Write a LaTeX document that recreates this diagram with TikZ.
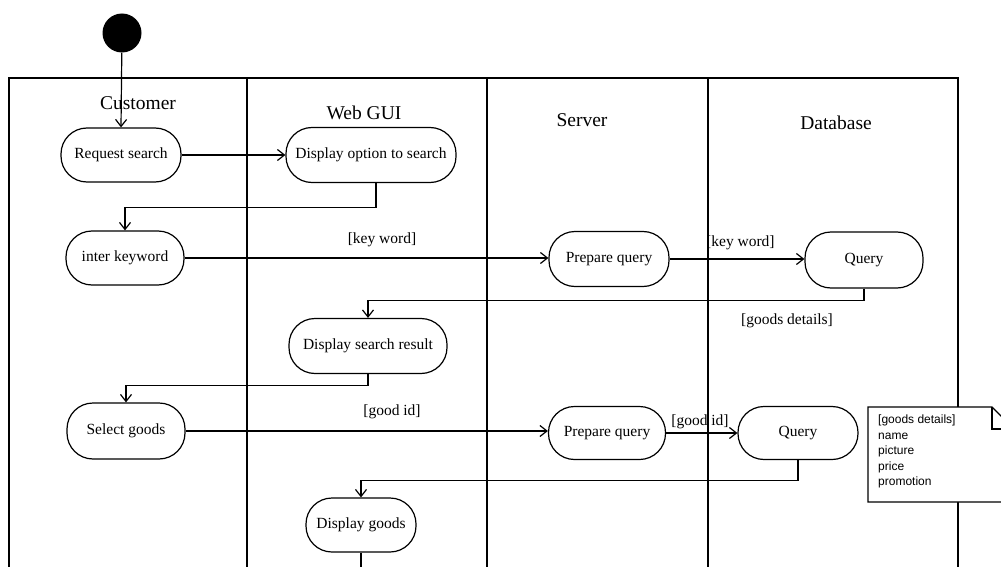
\documentclass[tikz,border=0pt]{standalone}
\usepackage{fontspec}
\setmainfont{Liberation Serif}
\newfontfamily\notefont{Liberation Sans}
\usetikzlibrary{arrows.meta}
\begin{document}
\begin{tikzpicture}[x=1pt,y=-1pt,
  act/.style={draw,line width=1.2pt,rectangle,rounded corners=26pt,inner sep=0pt,
    font=\fontsize{15.5}{18}\selectfont},
  lane/.style={line width=1.8pt},
  conn/.style={line width=1.2pt},
  arr/.style={conn,-{Straight Barb[length=7pt,width=11pt,line width=1.2pt]}},
  hdr/.style={font=\fontsize{19.5}{22}\selectfont},
  lbl/.style={font=\fontsize{15.5}{18}\selectfont,inner sep=0pt}]
\useasboundingbox (0,0) rectangle (1001,567);
\clip (0,0) rectangle (1001,567);
\fill[white] (0,0) rectangle (1001,567);
% swimlane frame
\draw[lane] (9,567) -- (9,78) -- (958,78) -- (958,567);
\draw[lane] (247,78) -- (247,567);
\draw[lane] (487,78) -- (487,567);
\draw[lane] (708,78) -- (708,567);
% headers
\node[hdr] (hcust) at (138,103) {Customer};
\node[hdr] (hweb) at (364,113) {Web GUI};
\node[hdr] (hserv) at (582,120) {Server};
\node[hdr] (hdb) at (836,123) {Database};
% start
\node[circle,fill=black,minimum size=39pt,inner sep=0pt] (start) at (122,33) {};
% activities
\node[act,minimum width=120pt,minimum height=54pt] (rs) at (121,155) {Request search};
\node[act,minimum width=170pt,minimum height=55pt] (dopt) at (371,155) {Display option to search};
\node[act,minimum width=118pt,minimum height=54pt] (ikw) at (125,258) {inter keyword};
\node[act,minimum width=120pt,minimum height=55pt] (pq1) at (609,259) {Prepare query};
\node[act,minimum width=118pt,minimum height=56pt] (q1) at (864,260) {Query};
\node[act,minimum width=158pt,minimum height=55pt] (dsr) at (368,346) {Display search result};
\node[act,minimum width=118pt,minimum height=56pt] (sel) at (126,431) {Select goods};
\node[act,minimum width=117pt,minimum height=53pt] (pq2) at (607,433) {Prepare query};
\node[act,minimum width=120pt,minimum height=53pt] (q2) at (798,433) {Query};
\node[act,minimum width=110pt,minimum height=54pt] (dg) at (361,525) {Display goods};
\coordinate (dgend) at (361,575);
% connectors
\draw[arr] (start) -- (rs.north);
\draw[arr] (rs.east) -- (dopt.west);
\draw[arr] ([xshift=5pt]dopt.south) -- ++(0,24) -| (ikw.north);
\draw[arr] (ikw.east) -- (ikw.east -| pq1.west);
\draw[arr] (pq1.east) -- (pq1.east -| q1.west);
\draw[arr] (q1.south) -- ++(0,12) -| (dsr.north);
\draw[arr] (dsr.south) -- ++(0,11) -| (sel.north);
\draw[arr] (sel.east) -- (sel.east -| pq2.west);
\draw[arr] (pq2.east) -- (pq2.east -| q2.west);
\draw[arr] (q2.south) -- ++(0,20) -| (dg.north);
\draw[conn] (dg.south) -- (dgend);
% guard labels
\node[lbl] (l1) at (382,240) {[key word]};
\node[lbl,anchor=west] (l2) at (706,243) {[key word]};
\node[lbl] (l3) at (787,321) {[goods details]};
\node[lbl] (l4) at (392,412) {[good id]};
\node[lbl] (l5) at (700,422) {[good id]};
% note
\draw[line width=1.2pt,fill=white] (868,407) -- (992,407) -- (1014,429) -- (1014,502) -- (868,502) -- cycle;
\draw[line width=1.2pt] (992,407) -- (992,429) -- (1014,429);
\node[anchor=north west,align=left,inner sep=0pt,font=\notefont\fontsize{12}{15.5}\selectfont] (note) at (878,415)
  {[goods details]\\name\\picture\\price\\promotion};
\end{tikzpicture}
\end{document}
